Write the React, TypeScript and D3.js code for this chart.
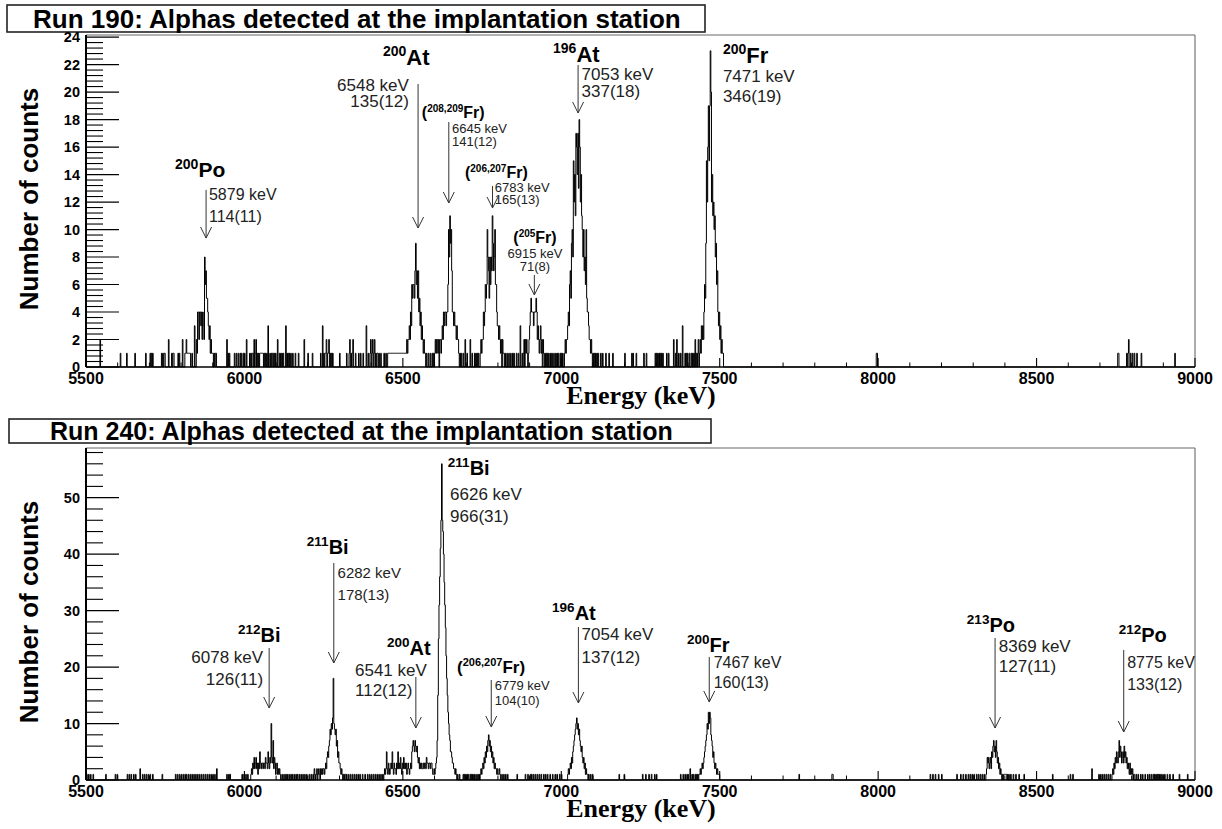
import React from "react";
import * as d3 from "d3";

// ---------------------------------------------------------------------------
// Spectrum binning
// ---------------------------------------------------------------------------
const BIN_KEV = 2;
const E_MIN = 5500;
const E_MAX = 9000;
const energyTicks = [5500, 6000, 6500, 7000, 7500, 8000, 8500, 9000];

// ---------------------------------------------------------------------------
// Run 190 — counts per 2 keV bin in each peak region
// ---------------------------------------------------------------------------
const r190Po200 = [2, 1, 4, 4, 2, 4, 4, 3, 4, 2, 4, 3, 2, 8, 6, 7, 5, 5, 4, 3, 2, 3, 1, 2, 1, 1];
const r190At200 = [1, 2, 1, 2, 2, 3, 2, 4, 3, 6, 5, 6, 6, 5, 7, 9, 6, 7, 5, 7, 4, 5, 3, 4, 2, 3, 2, 1, 2, 1, 1];
const r190Fr208 = [1, 2, 1, 2, 2, 1, 2, 0, 2, 2, 1, 2, 3, 2, 4, 3, 4, 4, 3, 4, 4, 6, 10, 8, 11, 9, 10, 7, 4, 4, 3, 4, 3, 3, 2, 3, 2, 2, 1, 0, 1];
const r190Fr206 = [1, 2, 1, 2, 2, 4, 3, 4, 6, 5, 6, 10, 8, 7, 5, 8, 6, 8, 7, 11, 9, 7, 8, 10, 6, 6, 4, 3, 3, 2, 3, 2, 1, 2, 0, 2, 1];
const r190Fr205 = [1, 2, 0, 2, 1, 2, 1, 0, 1, 2, 3, 4, 5, 4, 4, 4, 3, 4, 4, 4, 5, 4, 2, 3, 2, 1, 2, 3, 1, 2, 0, 2, 1];
const r190At196 = [1, 2, 1, 2, 2, 3, 4, 3, 6, 7, 5, 9, 10, 8, 15, 12, 14, 11, 17, 16, 14, 17, 13, 18, 16, 12, 14, 11, 10, 8, 10, 7, 8, 6, 10, 5, 4, 4, 3, 2, 2, 1, 2, 1, 0, 1];
const r190Fr200 = [1, 2, 1, 3, 2, 3, 2, 4, 6, 5, 9, 15, 12, 16, 19, 15, 19, 23, 20, 12, 14, 11, 12, 10, 11, 8, 9, 6, 7, 4, 3, 4, 2, 3, 1, 2, 1, 1];

const run190Peaks = [
  { start: 5848, counts: r190Po200 },
  { start: 6510, counts: r190At200 },
  { start: 6600, counts: r190Fr208 },
  { start: 6744, counts: r190Fr206 },
  { start: 6880, counts: r190Fr205 },
  { start: 7010, counts: r190At196 },
  { start: 7436, counts: r190Fr200 },
];

// single events (keV) outside the peak regions
const run190Singles = [
  5544, 5544, 5609, 5628, 5655, 5688, 5702, 5706, 5710, 5739, 5743, 5746, 5749, 5760, 5760, 5770, 5774, 5776,
  5791, 5795, 5805, 5805, 5812, 5814, 5816, 5816, 5818, 5820, 5822, 5824, 5826, 5828, 5834, 5842, 5842, 5842,
  5900, 5904, 5908, 5910, 5944, 5944, 5948, 5952, 5968, 5974, 5980, 5986, 5990, 5996, 6000, 6007, 6007, 6016,
  6020, 6024, 6026, 6030, 6030, 6034, 6036, 6036, 6040, 6044, 6048, 6050, 6052, 6054, 6056, 6058, 6062, 6066,
  6070, 6075, 6075, 6075, 6080, 6084, 6088, 6090, 6094, 6098, 6104, 6104, 6110, 6114, 6118, 6122, 6130, 6130,
  6130, 6134, 6138, 6142, 6146, 6152, 6160, 6170, 6188, 6188, 6200, 6214, 6240, 6246, 6246, 6246, 6250, 6254,
  6256, 6258, 6258, 6262, 6264, 6266, 6266, 6270, 6274, 6278, 6300, 6322, 6330, 6332, 6332, 6336, 6340, 6342,
  6342, 6350, 6360, 6366, 6374, 6384, 6384, 6384, 6390, 6396, 6398, 6398, 6402, 6404, 6404, 6408, 6410, 6410,
  6414, 6418, 6420, 6424, 6430, 6440, 6446,
  6574, 6580, 6586, 6592, 6596,
  6684, 6690, 6696, 6696, 6702, 6712, 6712, 6718, 6726, 6730, 6734, 6738,
  6818, 6822, 6828, 6834, 6840, 6846, 6850, 6858, 6864, 6870, 6870, 6870, 6876,
  6948, 6952, 6956, 6960, 6966, 6970, 6976, 6982, 6986, 6990, 6996, 7000, 7004,
  7104, 7108, 7112, 7116, 7124, 7130, 7140, 7150, 7162, 7200, 7222, 7226, 7236, 7260, 7268, 7296, 7300, 7304,
  7308, 7312, 7316, 7320, 7332, 7338, 7354, 7354, 7360, 7364, 7364, 7370, 7376, 7383, 7383, 7383, 7390, 7394,
  7398, 7404, 7410, 7414, 7418, 7422, 7422, 7426, 7430, 7432, 7432,
  7994, 7996, 8756, 8758, 8784, 8788, 8791, 8791, 8796, 8802, 8808, 8816, 8831, 8937,
];
// stretches with one count in every bin [from, to] keV
const run190Flat = [[6452, 6508]];

// ---------------------------------------------------------------------------
// Run 240 — counts per 2 keV bin in each peak region
// ---------------------------------------------------------------------------
const r240Bi212 = [1, 2, 1, 3, 2, 4, 2, 3, 4, 2, 3, 1, 3, 2, 5, 3, 2, 3, 3, 2, 3, 3, 2, 4, 3, 3, 2, 5, 3, 2, 4, 3, 10, 4, 3, 7, 2, 4, 3, 1, 2, 3, 1, 2, 1, 2, 1];
const r240Bi211a = [1, 0, 2, 1, 0, 1, 2, 0, 1, 2, 1, 0, 2, 1, 2, 1, 2, 2, 1, 2, 3, 2, 4, 5, 4, 6, 7, 9, 8, 10, 9, 11, 18, 10, 9, 8, 9, 6, 7, 4, 5, 3, 3, 2, 1, 2, 1];
const r240Low = [1, 2, 1, 2, 5, 2, 1, 3, 2, 1, 2, 3, 2, 5, 2, 1, 3, 2, 2, 1, 3, 2, 5, 2, 3, 2, 4, 2, 1, 3, 2, 4, 2, 3, 2, 3, 1, 2, 3, 2, 1, 2];
const r240At200 = [3, 2, 5, 6, 7, 6, 5, 7, 6, 5, 6, 4, 3, 4, 2, 3];
const r240Shoulder = [2, 3, 2, 2, 3, 2, 3, 3, 2, 4, 3, 3, 2, 3, 3, 2, 3, 3, 2, 1, 1, 2];
const r240Bi211b = [1, 2, 3, 4, 7, 15, 25, 31, 36, 41, 46, 56, 46, 44, 40, 35, 31, 27, 22, 18, 15, 12, 10, 8, 7, 5, 5, 4, 3, 3, 2, 2, 1, 2, 1];
const r240Fr206 = [1, 2, 1, 2, 3, 2, 4, 3, 5, 4, 6, 5, 7, 8, 6, 7, 5, 6, 4, 5, 3, 4, 2, 3, 2, 2, 1, 2, 1, 1, 2, 1];
const r240At196 = [1, 2, 1, 2, 3, 2, 4, 3, 5, 6, 7, 8, 9, 10, 11, 9, 10, 8, 9, 7, 6, 5, 6, 4, 3, 4, 2, 3, 1, 2, 1, 1];
const r240Fr200 = [1, 2, 1, 2, 3, 2, 3, 4, 5, 6, 7, 8, 10, 9, 12, 10, 12, 11, 8, 7, 6, 4, 5, 3, 2, 3, 2, 1, 2, 1, 1, 1];
const r240Po213 = [1, 2, 4, 3, 4, 2, 3, 4, 2, 5, 4, 6, 7, 5, 6, 4, 7, 5, 3, 4, 2, 3, 1, 2, 1];
const r240Po212 = [2, 1, 3, 2, 4, 3, 5, 4, 3, 5, 7, 4, 6, 5, 3, 4, 5, 3, 6, 4, 5, 3, 4, 2, 3, 2, 1, 3, 1, 2, 1, 2];

const run240Peaks = [
  { start: 6020, counts: r240Bi212 },
  { start: 6216, counts: r240Bi211a },
  { start: 6440, counts: r240Low },
  { start: 6524, counts: r240At200 },
  { start: 6556, counts: r240Shoulder },
  { start: 6600, counts: r240Bi211b },
  { start: 6744, counts: r240Fr206 },
  { start: 7020, counts: r240At196 },
  { start: 7436, counts: r240Fr200 },
  { start: 8340, counts: r240Po213 },
  { start: 8740, counts: r240Po212 },
];

const run240Singles = [
  5502, 5508, 5514, 5522, 5563, 5592, 5599, 5630, 5636, 5642, 5650, 5656, 5671, 5671, 5678, 5684, 5690, 5696,
  5702, 5710, 5741, 5782, 5788, 5794, 5800, 5806, 5812, 5816, 5822, 5828, 5834, 5840, 5846, 5852, 5858, 5864,
  5870, 5876, 5882, 5888, 5894, 5900, 5906, 5912, 5912, 5944, 5950, 5954, 5992, 5998, 6004, 6010,
  6118, 6124, 6130, 6134, 6140, 6146, 6150, 6156, 6162, 6166, 6172, 6178, 6184, 6190, 6196, 6204, 6210,
  6312, 6316, 6318, 6322, 6328, 6334, 6340, 6346, 6352, 6358, 6364, 6372, 6380, 6388, 6394, 6400, 6406, 6412,
  6418, 6424, 6430, 6436,
  6672, 6678, 6690, 6694, 6698, 6702, 6706, 6712, 6716, 6720, 6724, 6730, 6736, 6740,
  6812, 6818, 6824, 6830, 6860, 6886, 6894, 6902, 6906, 6912, 6918, 6924, 6930, 6936, 6944, 6950, 6956, 6964,
  6972, 6980, 6986, 6994, 7000,
  7086, 7092, 7098, 7182, 7198, 7256, 7266, 7276, 7284, 7294, 7300, 7376, 7384, 7390, 7396, 7400, 7406, 7406,
  7412, 7416, 7422, 7426, 7430, 7434,
  7751, 7854, 7856, 8164, 8172, 8180, 8190, 8200, 8248, 8260, 8268, 8276, 8284, 8290, 8296, 8302, 8310, 8316,
  8322, 8328, 8334,
  8392, 8396, 8398, 8400, 8402, 8404, 8408, 8412, 8418, 8426, 8434, 8444, 8460, 8550, 8606, 8614, 8674, 8674,
  8696, 8702, 8708, 8714, 8720, 8726, 8732, 8738,
  8806, 8808, 8814, 8820, 8828, 8834, 8842, 8850, 8856, 8862, 8868, 8872, 8876, 8880, 8884, 8888, 8892, 8898,
  8904, 8912, 8920, 8930, 8950, 8976,
];
const run240Flat: number[][] = [];

// ---------------------------------------------------------------------------
// Peak identifications: isotope, energy (keV), fitted area
// ---------------------------------------------------------------------------
const notes190 = [
  { mass: "200", el: "Po", keV: 5879, area: "114(11)", paren: false },
  { mass: "200", el: "At", keV: 6548, area: "135(12)", paren: false },
  { mass: "208,209", el: "Fr", keV: 6645, area: "141(12)", paren: true },
  { mass: "206,207", el: "Fr", keV: 6783, area: "165(13)", paren: true },
  { mass: "205", el: "Fr", keV: 6915, area: "71(8)", paren: true },
  { mass: "196", el: "At", keV: 7053, area: "337(18)", paren: false },
  { mass: "200", el: "Fr", keV: 7471, area: "346(19)", paren: false },
];

const notes240 = [
  { mass: "212", el: "Bi", keV: 6078, area: "126(11)", paren: false },
  { mass: "211", el: "Bi", keV: 6282, area: "178(13)", paren: false },
  { mass: "200", el: "At", keV: 6541, area: "112(12)", paren: false },
  { mass: "211", el: "Bi", keV: 6626, area: "966(31)", paren: false },
  { mass: "206,207", el: "Fr", keV: 6779, area: "104(10)", paren: true },
  { mass: "196", el: "At", keV: 7054, area: "137(12)", paren: false },
  { mass: "200", el: "Fr", keV: 7467, area: "160(13)", paren: false },
  { mass: "213", el: "Po", keV: 8369, area: "127(11)", paren: false },
  { mass: "212", el: "Po", keV: 8775, area: "133(12)", paren: false },
];

// Placement of each label (energy / count coordinates) and type sizes
type Layout = {
  arrow: [number, number] | null;
  head: [number, number];
  headAnchor?: string;
  text: [number, number];
  anchor: string;
  gap: number;
  el: number;
  mass: number;
  size: number;
};

const layout190: Layout[] = [
  { arrow: [12.88, 9.38], head: [5781, 13.82], text: [5888, 12.15], anchor: "start", gap: 22, el: 21, mass: 14, size: 16 },
  { arrow: [20.59, 10.11], head: [6437, 21.97], text: [6519, 20.1], anchor: "end", gap: 16, el: 22, mass: 14, size: 17 },
  { arrow: [17.82, 11.93], head: [6560, 18.11], text: [6655, 17.02], anchor: "start", gap: 13, el: 16, mass: 10, size: 13 },
  { arrow: [13.17, 11.57], head: [6696, 13.75], text: [6790, 12.73], anchor: "start", gap: 12.5, el: 16, mass: 10, size: 13 },
  { arrow: [6.69, 5.24], head: [6917, 9.02], headAnchor: "middle", text: [6917, 7.93], anchor: "middle", gap: 13, el: 16, mass: 10, size: 13 },
  { arrow: [21.97, 18.48], head: [6974, 22.19], text: [7064, 20.88], anchor: "start", gap: 17.5, el: 22, mass: 14, size: 17 },
  { arrow: null, head: [7510, 22.11], text: [7510, 20.73], anchor: "start", gap: 20, el: 22, mass: 14, size: 17 },
];

const layout240: Layout[] = [
  { arrow: [23.38, 12.75], head: [5980, 24.44], text: [6059, 20.72], anchor: "end", gap: 22, el: 20, mass: 13.5, size: 17 },
  { arrow: [38.43, 20.72], head: [6197, 40.03], text: [6294, 35.78], anchor: "start", gap: 22, el: 20, mass: 13.5, size: 15 },
  { arrow: [18.24, 9.21], head: [6450, 22.14], text: [6349, 18.42], anchor: "start", gap: 20, el: 20, mass: 13.5, size: 17 },
  { arrow: null, head: [6642, 54.02], text: [6649, 49.59], anchor: "start", gap: 22, el: 20, mass: 13.5, size: 17 },
  { arrow: [17.71, 9.39], head: [6671, 18.95], text: [6790, 15.94], anchor: "start", gap: 15, el: 17, mass: 11, size: 13 },
  { arrow: [27.1, 13.64], head: [6971, 28.34], text: [7064, 24.8], anchor: "start", gap: 23, el: 20, mass: 13.5, size: 17 },
  { arrow: [21.79, 13.82], head: [7397, 22.67], text: [7481, 19.84], anchor: "start", gap: 20, el: 20, mass: 13.5, size: 16 },
  { arrow: [25.15, 9.21], head: [8280, 26.21], text: [8381, 22.67], anchor: "start", gap: 20, el: 20, mass: 13.5, size: 17 },
  { arrow: [23.03, 8.5], head: [8759, 24.44], text: [8786, 19.84], anchor: "start", gap: 22, el: 20, mass: 13.5, size: 16 },
];

// ---------------------------------------------------------------------------
const SANS = "'Liberation Sans', Arial, Helvetica, sans-serif";
const SERIF = "'Liberation Serif', 'Times New Roman', serif";

function fillHistogram(peaks: { start: number; counts: number[] }[], singles: number[], flats: number[][]) {
  const n = Math.round((E_MAX - E_MIN) / BIN_KEV);
  const h = new Array(n).fill(0);
  const idx = (e: number) => Math.floor((e - E_MIN) / BIN_KEV);
  peaks.forEach((p) => p.counts.forEach((c, i) => (h[idx(p.start) + i] += c)));
  singles.forEach((e) => (h[idx(e)] += 1));
  flats.forEach(([a, b]) => {
    for (let e = a; e <= b; e += BIN_KEV) h[idx(e)] += 1;
  });
  return h;
}

type PanelProps = {
  title: string;
  box: { x: number; y: number; w: number; h: number; tx: number; ty: number; size: number };
  counts: number[];
  yMax: number;
  top: number;
  bottom: number;
  majorStep: number;
  minorStep: number;
  labelMax: number;
  minorMax: number;
  notes: typeof notes190;
  layout: Layout[];
  yTitleY: number;
};

const LEFT = 86;
const RIGHT = 1195;

function Panel(p: PanelProps) {
  const x = d3.scaleLinear().domain([E_MIN, E_MAX]).range([LEFT, RIGHT]);
  const y = d3.scaleLinear().domain([0, p.yMax]).range([p.bottom, p.top]);

  const pts: [number, number][] = p.counts.map((c, i) => [E_MIN + i * BIN_KEV, c]);
  pts.push([E_MAX, p.counts[p.counts.length - 1]]);
  const stepLine = d3
    .line<[number, number]>()
    .x((d) => x(d[0]))
    .y((d) => y(d[1]))
    .curve(d3.curveStepAfter);

  const nMinor = Math.round(p.minorMax / p.minorStep);
  const yMinor = d3
    .range(0, nMinor + 1)
    .map((i) => +(i * p.minorStep).toFixed(4))
    .filter((v) => Math.abs(v / p.majorStep - Math.round(v / p.majorStep)) > 1e-6);
  const yMajor = d3.range(0, p.labelMax + 1e-6, p.majorStep);
  const xMinor = d3.range(E_MIN, E_MAX + 1, 100).filter((v) => v % 500 !== 0);

  return (
    <g>
      {/* title box */}
      <rect x={p.box.x} y={p.box.y} width={p.box.w} height={p.box.h} fill="#fff" stroke="#222" strokeWidth={1.6} />
      <text x={p.box.tx} y={p.box.ty} fontFamily={SANS} fontWeight="bold" fontSize={p.box.size} fill="#000">
        {p.title}
      </text>

      {/* frame */}
      <line x1={LEFT} x2={RIGHT} y1={p.top} y2={p.top} stroke="#666" strokeWidth={1.2} />
      <line x1={RIGHT} x2={RIGHT} y1={p.top} y2={p.bottom} stroke="#777" strokeWidth={1.2} />

      {/* spectrum */}
      <path d={stepLine(pts) || ""} fill="none" stroke="#000" strokeWidth={1} />

      {/* axes */}
      <line x1={LEFT} x2={RIGHT} y1={p.bottom} y2={p.bottom} stroke="#000" strokeWidth={1.5} />
      <line x1={LEFT} x2={LEFT} y1={p.top} y2={p.bottom} stroke="#000" strokeWidth={2} />

      {/* y ticks */}
      {yMajor.map((v) => (
        <line key={"ym" + v} x1={LEFT} x2={LEFT + 33} y1={y(v)} y2={y(v)} stroke="#000" strokeWidth={1.2} />
      ))}
      {yMinor.map((v) => (
        <line key={"yn" + v} x1={LEFT} x2={LEFT + 17} y1={y(v)} y2={y(v)} stroke="#000" strokeWidth={1.1} />
      ))}
      {yMajor.map((v) => (
        <text
          key={"yl" + v}
          x={80}
          y={y(v)}
          dy="0.36em"
          textAnchor="end"
          fontFamily={SANS}
          fontWeight="bold"
          fontSize={14.5}
        >
          {v}
        </text>
      ))}

      {/* x ticks */}
      {energyTicks.map((v) => (
        <line key={"xm" + v} x1={x(v)} x2={x(v)} y1={p.bottom} y2={p.bottom - 9} stroke="#000" strokeWidth={1.1} />
      ))}
      {xMinor.map((v) => (
        <line key={"xn" + v} x1={x(v)} x2={x(v)} y1={p.bottom} y2={p.bottom - 4.5} stroke="#000" strokeWidth={1} />
      ))}
      {energyTicks.map((v) => (
        <text
          key={"xl" + v}
          x={x(v)}
          y={p.bottom + 17}
          textAnchor="middle"
          fontFamily={SANS}
          fontWeight="bold"
          fontSize={16}
        >
          {v}
        </text>
      ))}

      {/* axis titles */}
      <text
        x={641}
        y={p.bottom + 37}
        textAnchor="middle"
        fontFamily={SERIF}
        fontWeight="bold"
        fontSize={26}
      >
        Energy (keV)
      </text>
      <text
        transform={`translate(38,${p.yTitleY}) rotate(-90)`}
        textAnchor="middle"
        fontFamily={SANS}
        fontWeight="bold"
        fontSize={26}
      >
        Number of counts
      </text>

      {/* peak labels */}
      {p.notes.map((n, i) => {
        const l = p.layout[i];
        const ax = x(n.keV);
        const shift = l.el * 0.4;
        return (
          <g key={"note" + i}>
            {l.arrow && (
              <g stroke="#333" strokeWidth={1} fill="none">
                <line x1={ax} x2={ax} y1={y(l.arrow[0])} y2={y(l.arrow[1])} />
                <path
                  d={`M${ax - 5.5},${y(l.arrow[1]) - 11}L${ax},${y(l.arrow[1])}L${ax + 5.5},${y(l.arrow[1]) - 11}`}
                />
              </g>
            )}
            <text
              x={x(l.head[0])}
              y={y(l.head[1])}
              textAnchor={l.headAnchor || "start"}
              fontFamily={SANS}
              fontWeight="bold"
              fill="#000"
            >
              {n.paren && <tspan fontSize={l.el}>(</tspan>}
              <tspan fontSize={l.mass} dy={-shift}>
                {n.mass}
              </tspan>
              <tspan fontSize={l.el} dy={shift}>
                {n.el}
                {n.paren ? ")" : ""}
              </tspan>
            </text>
            <text
              x={x(l.text[0])}
              y={y(l.text[1])}
              textAnchor={l.anchor}
              fontFamily={SANS}
              fontSize={l.size}
              fill="#222"
            >
              <tspan x={x(l.text[0])}>{`${n.keV} keV`}</tspan>
              <tspan x={x(l.text[0])} dy={l.gap}>
                {n.area}
              </tspan>
            </text>
          </g>
        );
      })}
    </g>
  );
}

export default function App() {
  const h190 = fillHistogram(run190Peaks, run190Singles, run190Flat);
  const h240 = fillHistogram(run240Peaks, run240Singles, run240Flat);

  return (
    <svg
      width={1222}
      height={829}
      viewBox="0 0 1222 829"
      style={{ position: "absolute", left: 0, top: 0, background: "#fff" }}
    >
      <rect x={0} y={0} width={1222} height={829} fill="#fff" />
      <Panel
        title="Run 190: Alphas detected at the implantation station"
        box={{ x: 7, y: 5, w: 698, h: 27, tx: 33, ty: 28, size: 26 }}
        counts={h190}
        yMax={24.15}
        top={35}
        bottom={367}
        majorStep={2}
        minorStep={0.4}
        labelMax={24}
        minorMax={24}
        notes={notes190}
        layout={layout190}
        yTitleY={199}
      />
      <Panel
        title="Run 240: Alphas detected at the implantation station"
        box={{ x: 9, y: 419, w: 702, h: 24, tx: 50, ty: 440, size: 25 }}
        counts={h240}
        yMax={58.8}
        top={448}
        bottom={780}
        majorStep={10}
        minorStep={2}
        labelMax={50}
        minorMax={58}
        notes={notes240}
        layout={layout240}
        yTitleY={612}
      />
    </svg>
  );
}
